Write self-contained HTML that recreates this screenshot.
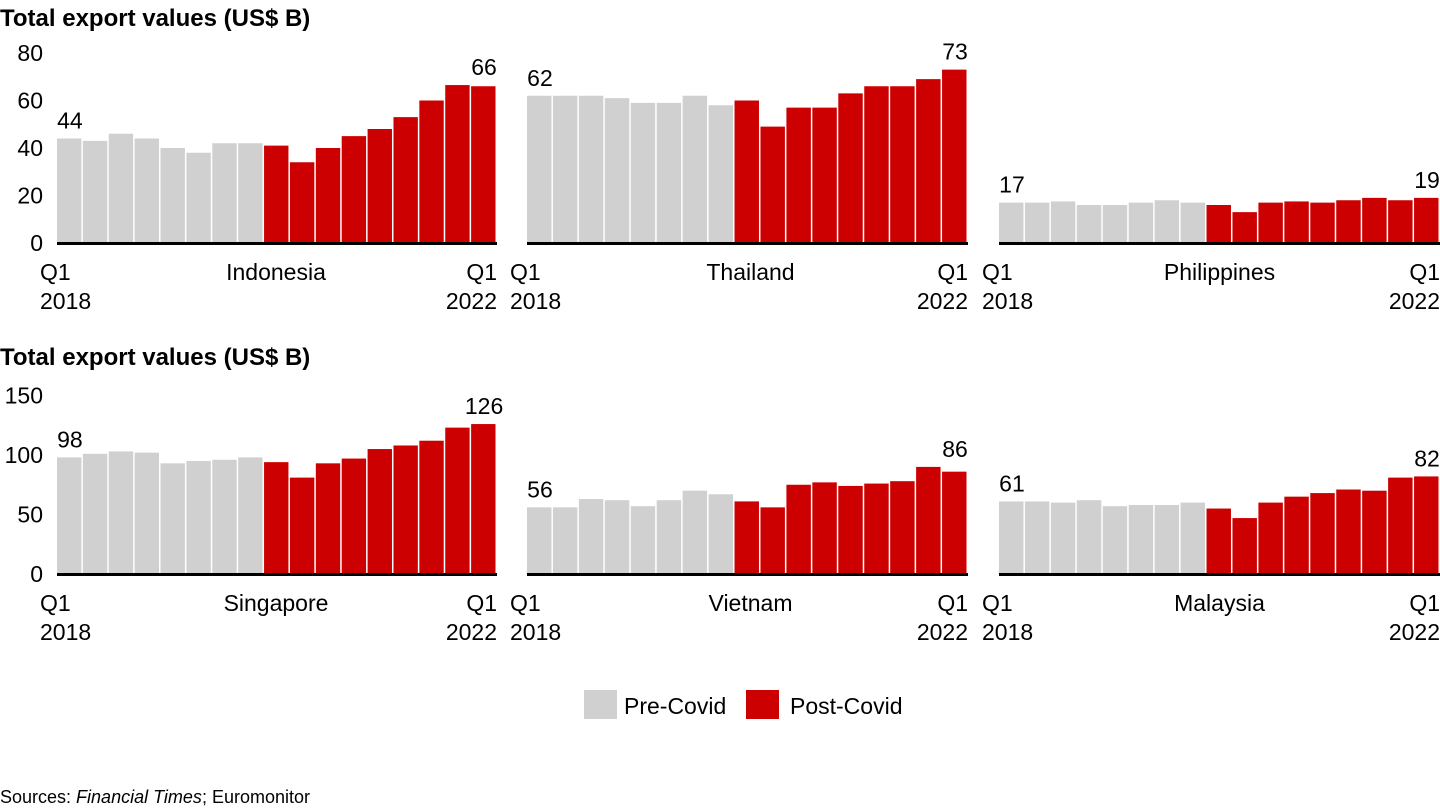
<!DOCTYPE html>
<html><head><meta charset="utf-8"><style>
body{margin:0;background:#fff;}
svg{display:block;font-family:"Liberation Sans",Arial,sans-serif;}
</style></head><body>
<svg id="chart" width="1440" height="810" viewBox="0 0 1440 810">
<text x="0" y="26" font-size="24" font-weight="bold">Total export values (US$ B)</text>
<text x="0" y="365" font-size="24" font-weight="bold">Total export values (US$ B)</text>
<g id="marks"></g>
<rect x="584" y="690" width="33" height="29" fill="#d0d0d0"/>
<text x="624" y="714" font-size="23">Pre-Covid</text>
<rect x="746" y="690" width="33" height="29" fill="#cc0000"/>
<text x="790" y="714" font-size="23">Post-Covid</text>
<text x="0" y="803" font-size="18">Sources: <tspan font-style="italic">Financial Times</tspan>; Euromonitor</text>
</svg>
<script>
const countries = ["Indonesia","Thailand","Philippines","Singapore","Vietnam","Malaysia"];
const indonesia = [44,43,46,44,40,38,42,42,41,34,40,45,48,53,60,66.5,66];
const thailand = [62,62,62,61,59,59,62,58,60,49,57,57,63,66,66,69,73];
const philippines = [17,17,17.5,16,16,17,18,17,16,13,17,17.5,17,18,19,18,19];
const singapore = [98,101,103,102,93,95,96,98,94,81,93,97,105,108,112,123,126];
const vietnam = [56,56,63,62,57,62,70,67,61,56,75,77,74,76,78,90,86];
const malaysia = [61,61,60,62,57,58,58,60,55,47,60,65,68,71,70,81,82];
const topTicks = [0,20,40,60,80];
const bottomTicks = [0,50,100,150];
const preCount = 8;

const svg = document.getElementById('marks');
const NS = "http://www.w3.org/2000/svg";
function mk(tag, attrs, text){const e=document.createElementNS(NS,tag);for(const k in attrs)e.setAttribute(k,attrs[k]);if(text!==undefined)e.textContent=text;svg.appendChild(e);return e;}

const rows=[{y0:243,scale:190/80,ticks:topTicks,data:[indonesia,thailand,philippines]},
            {y0:574,scale:178.5/150,ticks:bottomTicks,data:[singapore,vietnam,malaysia]}];
const panelX=[[57,497],[527,968],[999,1440]];
rows.forEach((row,ri)=>{
  const yScale=v=>row.y0-v*row.scale;
  row.ticks.forEach(t=>{
    const e=mk('text',{x:43,y:yScale(t)+8,'font-size':23,'text-anchor':'end'},String(t));
    
    
  });
  row.data.forEach((vals,pi)=>{
    const [x0,x1]=panelX[pi];const bw=(x1-x0)/vals.length;
    const name=countries[ri*3+pi];
    vals.forEach((v,i)=>{
      const r=mk('rect',{x:x0+i*bw,y:yScale(v),width:bw-1.5,height:v*row.scale,fill:i<preCount?'#d0d0d0':'#cc0000'});
      
      
    });
    const b=mk('rect',{x:x0,y:row.y0-1,width:x1-x0,height:3,fill:'#000'});
    
    
    const l1=mk('text',{x:x0+bw/2,y:yScale(vals[0])-10,'font-size':23,'text-anchor':'middle'},String(vals[0]));
    
    
    const last=vals[vals.length-1];
    const l2=mk('text',{x:x1-bw/2,y:yScale(Math.max(last,vals[vals.length-2]))-10,'font-size':23,'text-anchor':'middle'},String(last));
    
    
    const ly=row.y0+37;
    [['Q1',x0-17,ly,'start'],['2018',x0-17,ly+29,'start'],['Q1',x1,ly,'end'],['2022',x1,ly+29,'end'],[name,(x0+x1)/2+[-1,3,0][pi],ly,'middle']].forEach(a=>{
      const t=mk('text',{x:a[1],y:a[2],'font-size':23,'text-anchor':a[3]},a[0]);
      
      
    });
  });
});
</script>
</body></html>
